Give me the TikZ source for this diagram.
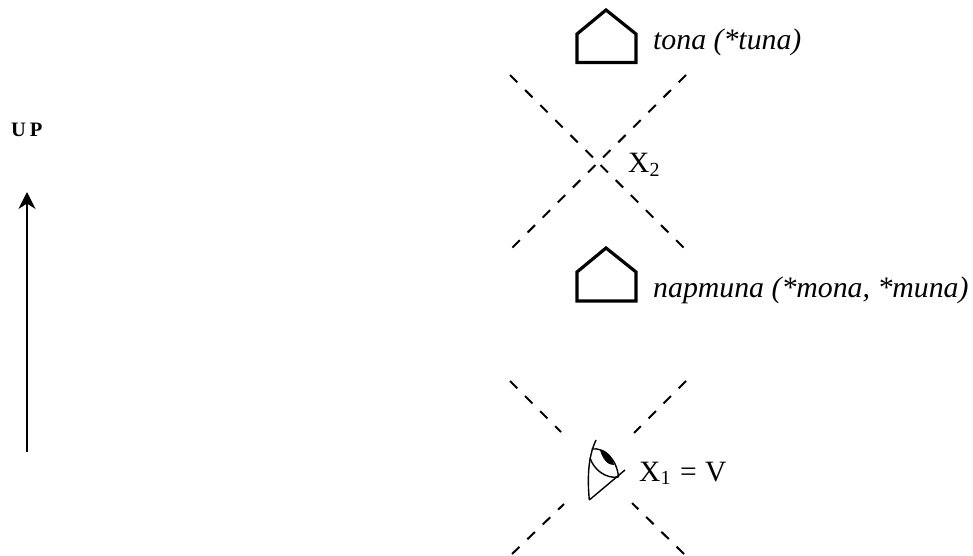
\documentclass[tikz,border=0pt]{standalone}
\usepackage{fontspec}
\setmainfont{Liberation Serif}
\usetikzlibrary{arrows.meta}
\tikzset{
  x=1pt,y=-1pt,
  dashline/.style={line width=2pt,dash pattern=on 10.4pt off 10.9pt},
  housebox/.style={line width=3.2pt,miter limit=10},
  lab/.style={anchor=base west,inner sep=0pt,font=\fontsize{29.5}{32}\selectfont},
  itlab/.style={lab,font=\fontsize{29.8}{32}\selectfont\itshape},
  eyeline/.style={line width=1.4pt,line join=round},
  uparrow/.style={line width=1.5pt,-{Stealth[length=17pt,width=17pt]}}
}
\newcommand{\subsm}[1]{\raisebox{-3.5pt}{\fontsize{20}{22}\selectfont #1}}
\begin{document}
\begin{tikzpicture}
\useasboundingbox (0,0) rectangle (973,556);
% arrow
\coordinate (arrA) at (27,452);
\coordinate (arrB) at (27,192);
\draw[uparrow] (arrA) -- (arrB);
\node[lab,font=\fontsize{20.5}{22}\selectfont\bfseries] (up) at (11,136.5) {U\kern4pt P};
% upper X
\coordinate (a1) at (510,75);  \coordinate (a2) at (684,248);
\coordinate (b1) at (686,75);  \coordinate (b2) at (512,248);
\draw[dashline] (a1) -- (a2);
\draw[dashline] (b1) -- (b2);
% lower X
\coordinate (c1) at (510,381); \coordinate (c2) at (561,432);
\coordinate (c3) at (684,554); \coordinate (c4) at (632,503);
\coordinate (d1) at (686,381); \coordinate (d2) at (634,433);
\coordinate (d3) at (512,554); \coordinate (d4) at (564,504);
\draw[dashline] (c1) -- (c2);
\draw[dashline] (c3) -- (c4);
\draw[dashline] (d1) -- (d2);
\draw[dashline] (d3) -- (d4);
% houses
\draw[housebox] (606,10) -- (636,34) -- (636,62.5) -- (577,62.5) -- (577,34) -- cycle;
\draw[housebox] (606,248) -- (636,272) -- (636,301) -- (577,301) -- (577,272) -- cycle;
% labels
\node[itlab] (t1) at (653,49.5) {tona (*tuna)};
\node[itlab] (t2) at (653,297) {napmuna (*mona, *muna)};
\node[lab] (x2) at (628,172.5) {X\subsm{2}};
\node[lab] (x1) at (639,481) {X\subsm{1}\hspace{9.5pt}=\hspace{8.5pt}V};
% eye
\draw[eyeline] (589.3,500) -- (625,470);
\draw[eyeline] (589.3,500) .. controls (587.5,480) and (587.5,458) .. (596,440);
\draw[eyeline] (591.5,449) .. controls (605,447) and (617,460) .. (618.5,477);
\draw[eyeline] (590,458) .. controls (594,470) and (606,479) .. (618.5,477);
\fill (600,450) .. controls (606,449) and (613,458) .. (614,465) .. controls (608,466) and (602,458) .. (600,450) -- cycle;
\end{tikzpicture}
\end{document}
